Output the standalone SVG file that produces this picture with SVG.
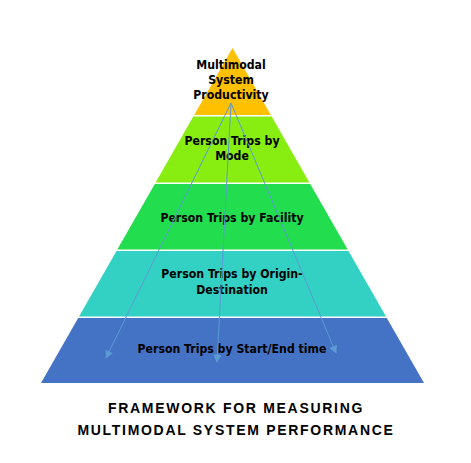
<svg xmlns="http://www.w3.org/2000/svg" width="471" height="463" viewBox="0 0 471 463">
<style>
.lbl{font-family:"DejaVu Sans Condensed","DejaVu Sans",sans-serif;font-weight:bold;font-size:12.2px;fill:#000;text-anchor:middle}
.ttl{font-family:"Liberation Sans",Arial,sans-serif;font-weight:bold;font-size:14px;fill:#000;text-anchor:middle;letter-spacing:1.7px}
.conn{stroke:#5B9BD5;stroke-width:1;fill:none;marker-end:url(#ah)}
</style>
<defs>
<marker id="ah" viewBox="0 0 10 10" refX="9" refY="5" markerWidth="9" markerHeight="8" markerUnits="userSpaceOnUse" orient="auto">
<path d="M0,0 L10,5 L0,10 z" fill="#5B9BD5"/>
</marker>
</defs>
<rect width="471" height="463" fill="#fff"/>
<g id="level5">
<polygon points="78.2,318 386.8,318 424,383 41,383" fill="#4472C4"/>
<text class="lbl" x="232" y="353">Person Trips by Start/End time</text>
</g>
<g id="level4">
<polygon points="116.5,251 348.5,251 386,316.5 79,316.5" fill="#33D1C4"/>
<text class="lbl" x="232" y="278">Person Trips by Origin-</text>
<text class="lbl" x="232" y="294">Destination</text>
</g>
<g id="level3">
<polygon points="154.8,184 310.2,184 347.7,249.5 117.3,249.5" fill="#22DD4D"/>
<text class="lbl" x="232" y="222">Person Trips by Facility</text>
</g>
<g id="level2">
<polygon points="193.3,116.5 271.7,116.5 309.4,182.5 155.6,182.5" fill="#88EE11"/>
<text class="lbl" x="232" y="145">Person Trips by</text>
<text class="lbl" x="232" y="160">Mode</text>
</g>
<g id="level1">
<polygon points="232.5,48 270.8,115 194.2,115" fill="#FFC000"/>
<text class="lbl" x="231" y="69">Multimodal</text>
<text class="lbl" x="231" y="84">System</text>
<text class="lbl" x="231" y="99">Productivity</text>
</g>
<g id="connectors">
<line class="conn" x1="231" y1="103" x2="106" y2="358"/>
<line class="conn" x1="231" y1="103" x2="217" y2="362"/>
<line class="conn" x1="231" y1="103" x2="336" y2="353"/>
</g>
<g id="title">
<text class="ttl" x="236" y="413">FRAMEWORK FOR MEASURING</text>
<text class="ttl" x="236" y="435">MULTIMODAL SYSTEM PERFORMANCE</text>
</g>
</svg>
